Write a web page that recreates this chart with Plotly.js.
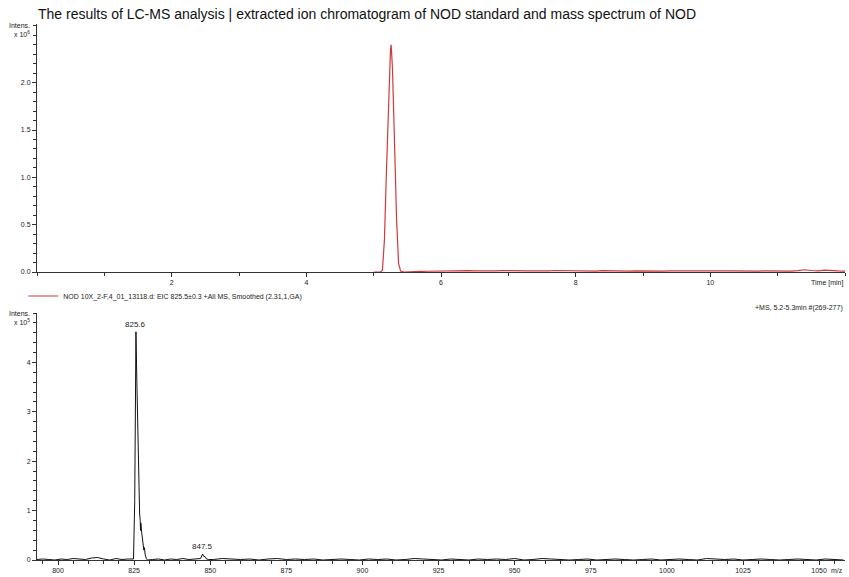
<!DOCTYPE html>
<html><head><meta charset="utf-8">
<script src="https://cdn.plot.ly/plotly-3.0.1.min.js"></script>
<style>body{margin:0;background:#fff}#chart{width:849px;height:577px}</style>
</head><body><div id="chart"></div>
<script>
// ---- Extracted ion chromatogram (intensity in x10^6) ----
const eicTime = [5.00,5.05,5.10,5.13,5.16,5.19,5.22,5.25,5.26,5.28,5.31,5.34,5.37,5.40,5.45,5.50,5.55,
  5.6,5.7,5.8,5.9,6.0,6.1,6.2,6.3,6.4,6.5,
  6.6,6.7,6.8,6.9,7.0,7.1,7.2,7.3,7.4,7.5,
  7.6,7.7,7.8,7.9,8.0,8.1,8.2,8.3,8.4,8.5,
  8.6,8.7,8.8,8.9,9.0,9.1,9.2,9.3,9.4,9.5,
  9.6,9.7,9.8,9.9,10.0,10.1,10.2,10.3,10.4,10.5,
  10.6,10.7,10.8,10.9,11.0,11.1,11.2,11.3,11.4,11.5,
  11.6,11.7,11.8,11.9,12.0];
const eicIntensity = [0,0,0,0.02,0.34,1.07,1.85,2.35,2.40,2.14,1.36,0.56,0.09,0.01,0,0,0.002,
  0.004,0.006,0.008,0.010,0.012,0.011,0.013,0.012,0.014,0.012,
  0.010,0.013,0.011,0.015,0.012,0.010,0.012,0.011,0.013,0.010,
  0.012,0.016,0.015,0.012,0.010,0.011,0.013,0.010,0.014,0.012,
  0.015,0.011,0.010,0.013,0.011,0.009,0.012,0.010,0.013,0.011,
  0.010,0.012,0.011,0.013,0.010,0.009,0.011,0.012,0.010,0.013,
  0.011,0.009,0.012,0.010,0.011,0.013,0.010,0.015,0.024,0.016,
  0.012,0.020,0.014,0.012,0.010];
const eicName = "NOD 10X_2-F,4_01_13118.d: EIC 825.5\u00b10.3 +All MS, Smoothed (2.31,1,GA)";

// ---- Mass spectrum (intensity in x10^5) ----
const msMz = [793,795,797,799,801,803,805,807,809,811,813,815,817,819,821,823,
  824.8,825.2,825.4,825.6,825.9,826.2,826.5,826.8,827.0,827.1,827.2,827.5,827.9,828.2,828.4,828.6,829.0,829.4,
  831,833,835,837,839,841,843,845,
  846.8,847.5,847.9,848.3,848.8,849.5,
  851,854,857,860,863,866,869,872,875,878,
  881,884,887,890,893,896,899,902,905,908,
  911,914,917,920,923,926,929,932,935,938,
  941,944,947,950,953,956,959,962,965,968,
  971,974,977,980,983,986,989,992,995,998,
  1001,1004,1007,1010,1013,1016,1019,1022,1025,1028,
  1031,1034,1037,1040,1043,1046,1049,1052,1055,1058];
const msIntensity = [0.01,0.02,0.01,0.00,0.02,0.01,0.03,0.02,0.01,0.04,0.05,0.02,0.00,0.03,0.01,0.02,
  0.02,1.20,3.00,4.62,3.60,2.60,1.70,0.95,0.80,0.60,0.75,0.55,0.35,0.20,0.25,0.12,0.03,0.00,
  0.01,0.02,0.00,0.02,0.01,0.03,0.01,0.02,
  0.03,0.12,0.07,0.07,0.02,0.01,
  0.01,0.03,0.02,0.01,0.02,0.00,0.02,0.03,0.01,0.02,
  0.01,0.02,0.00,0.01,0.02,0.01,0.00,0.02,0.01,0.02,
  0.00,0.01,0.03,0.02,0.01,0.00,0.02,0.01,0.00,0.02,
  0.01,0.02,0.01,0.03,0.00,0.01,0.03,0.02,0.01,0.00,
  0.01,0.02,0.00,0.01,0.02,0.01,0.00,0.01,0.02,0.00,
  0.01,0.02,0.01,0.00,0.03,0.02,0.01,0.02,0.00,0.01,
  0.02,0.01,0.00,0.01,0.02,0.01,0.00,0.02,0.01,0.00];
const msPeakLabels = [{mz: 825.6, intensity: 4.62, text: "825.6"}, {mz: 847.5, intensity: 0.12, text: "847.5"}];

const eicTickVals = [2,4,6,8,10];
const eicYTickVals = [0,0.5,1,1.5,2];
const eicYTickText = ["0.0","0.5","1.0","1.5","2.0"];
const msTickVals = [800,825,850,875,900,925,950,975,1000,1025,1050];
const msYTickVals = [0,1,2,3,4];

const tickFont = {family: "Arial, Liberation Sans, sans-serif", size: 7, color: "#222"};
const labFont = {family: "Arial, Liberation Sans, sans-serif", size: 7, color: "#222"};

const traces = [
  {x: eicTime, y: eicIntensity, type: "scatter", mode: "lines", name: eicName,
   line: {color: "#d2383c", width: 1.2}, xaxis: "x", yaxis: "y", showlegend: true, hoverinfo: "skip"},
  {x: msMz, y: msIntensity, type: "scatter", mode: "lines", name: "MS",
   line: {color: "#111", width: 1}, xaxis: "x2", yaxis: "y2", showlegend: false, hoverinfo: "skip"}
];

const axisCommon = {showgrid: false, zeroline: false, showline: true, linecolor: "#333", linewidth: 1,
  ticks: "outside", ticklen: 4, tickcolor: "#333", tickwidth: 1, tickfont: tickFont};

const annotations = [
  {xref: "paper", yref: "paper", x: 0, y: 1, xanchor: "right", yanchor: "middle", xshift: -5, yshift: -1, text: "Intens.", showarrow: false, font: labFont},
  {xref: "paper", yref: "paper", x: 0, y: 0.983, xanchor: "right", yanchor: "middle", xshift: -5, yshift: -1, text: "x 10<sup>6</sup>", showarrow: false, font: labFont},
  {xref: "paper", yref: "paper", x: 0, y: 0.4608, xanchor: "right", yanchor: "middle", xshift: -5, text: "Intens.", showarrow: false, font: labFont},
  {xref: "paper", yref: "paper", x: 0, y: 0.444, xanchor: "right", yanchor: "middle", xshift: -5, text: "x 10<sup>5</sup>", showarrow: false, font: labFont},
  {xref: "paper", yref: "paper", x: 1, y: 0.5373, xanchor: "right", yanchor: "top", yshift: -5, text: "Time [min]", showarrow: false, font: labFont},
  {xref: "paper", yref: "paper", x: 1, y: 0, xanchor: "right", yanchor: "top", yshift: -5, text: "m/z", showarrow: false, font: labFont},
  {xref: "paper", yref: "paper", x: 1, y: 0.470, xanchor: "right", yanchor: "middle", text: "+MS, 5.2-5.3min #(269-277)", showarrow: false, font: labFont}
];
msPeakLabels.forEach(p => annotations.push({xref: "x2", yref: "y2", x: p.mz, y: p.intensity, yanchor: "bottom", yshift: 1,
  text: p.text, showarrow: false, font: {family: "Arial, Liberation Sans, sans-serif", size: 8, color: "#222"}}));

const layout = {
  width: 849, height: 577,
  margin: {l: 37, r: 4, t: 24, b: 17},
  paper_bgcolor: "#fff", plot_bgcolor: "#fff",
  title: {text: "The results of LC-MS analysis | extracted ion chromatogram of NOD standard and mass spectrum of NOD",
    x: 38/849, xanchor: "left", y: 1 - 14/577, yanchor: "middle",
    font: {family: "Arial, Liberation Sans, sans-serif", size: 14, color: "#111"}},
  showlegend: true,
  legend: {x: -0.017, xanchor: "left", y: 0.4925, yanchor: "middle", bgcolor: "rgba(0,0,0,0)",
    font: labFont, itemwidth: 30, tracegroupgap: 0},
  xaxis: Object.assign({}, axisCommon, {domain: [0,1], anchor: "y", range: [0,12], tickmode: "array", tickvals: eicTickVals,
    minor: {dtick: 1, tick0: 0, ticks: "outside", ticklen: 3, tickcolor: "#333"}}),
  yaxis: Object.assign({}, axisCommon, {domain: [0.5373,1], anchor: "x", range: [0,2.62], tickmode: "array", tickvals: eicYTickVals, ticktext: eicYTickText,
    minor: {dtick: 0.1, tick0: 0, ticks: "outside", ticklen: 3, tickcolor: "#333"}}),
  xaxis2: Object.assign({}, axisCommon, {domain: [0,1], anchor: "y2", range: [793.1,1058.5], tickmode: "array", tickvals: msTickVals,
    minor: {dtick: 5, tick0: 800, ticks: "outside", ticklen: 3, tickcolor: "#333"}}),
  yaxis2: Object.assign({}, axisCommon, {domain: [0,0.4608], anchor: "x2", range: [0,5], tickmode: "array", tickvals: msYTickVals,
    minor: {dtick: 0.2, tick0: 0, ticks: "outside", ticklen: 3, tickcolor: "#333"}}),
  annotations: annotations
};

Plotly.newPlot("chart", traces, layout, {displayModeBar: false, staticPlot: true});
</script></body></html>
